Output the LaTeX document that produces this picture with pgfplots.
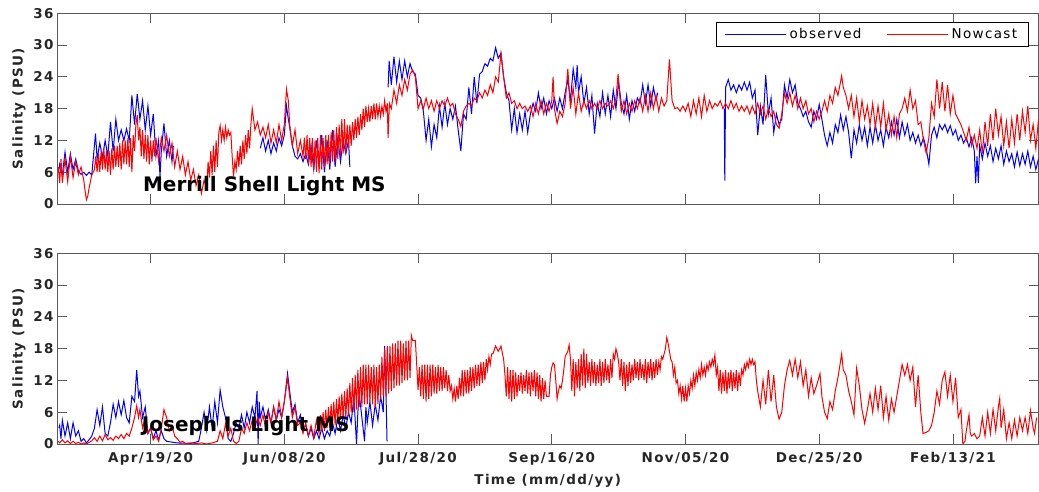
\documentclass[border=0pt]{standalone}
\usepackage{fontspec}
\setmainfont{DejaVu Sans}
\newfontfamily\spfont{DejaVu Sans}[LetterSpace=10]
\usepackage{pgfplots}
\pgfplotsset{compat=1.18}
\definecolor{axgray}{RGB}{90,90,90}
\definecolor{txtgray}{RGB}{38,38,38}
\pgfplotsset{
  myaxis/.style={
    scale only axis, width=981.5pt, height=190.7pt,
    xmin=0, xmax=367, ymin=0, ymax=36,
    ytick={0,6,12,18,24,30,36},
    xtick={35,85,135,185,235,285,335},
    minor tick num=0,
    tick pos=both,
    tick align=inside,
    major tick length=10pt,
    /pgf/number format/assume math mode=true,
    axis line style={axgray, line width=0.8pt},
    tick style={axgray, line width=0.8pt},
    tick label style={font=\spfont\fontsize{13.5}{14}\selectfont\bfseries, text=txtgray},
    ylabel={Salinity (PSU)},
    ylabel style={font=\spfont\fontsize{13.5}{14}\selectfont\bfseries, text=txtgray, at={(axis description cs:-0.0387,0.5)}, anchor=center},
    unbounded coords=jump,
    every axis plot/.append style={line width=1pt},
  }
}
\begin{document}
\begin{tikzpicture}[x=1pt,y=1pt]
\path[use as bounding box] (0,0) rectangle (1039,492);
% ---------------- top panel ----------------
\begin{axis}[myaxis, at={(57pt,288pt)}, anchor=south west,
  xticklabels={},
  legend columns=2,
  legend style={at={(rel axis cs:0.9896,0.956)}, anchor=north east, fill=white,
    font=\spfont\fontsize{13.5}{14}\selectfont, inner xsep=8pt, inner ysep=3.5pt,
    nodes={inner sep=3pt, text depth=0.15em},
    /tikz/every even column/.append style={column sep=22pt}},
  legend image code/.code={\draw[#1] (0pt,0pt) -- (61pt,0pt);},
]
\addplot[blue] coordinates {
(0.7,6.5)(1,7.5)(2,5.5)(3,9.8)(4,6)(5,9.5)(6,6.5)(7,8.5)(8,6.2)(9,5.6)(10,6)(11,5.4)(12,6)(13,5.5)(14.4,13.3)(15,8.5)(16,11.5)(17,8.8)(18,12)(19,9)(20,15.5)
(21,10)(22,16)(23,12)(24,14)(25,12)(26,14.2)(27,12)(28,20.5)(29,15)(30,20.8)(31,16)(32,19.5)(33,14)(34,18.5)(35,13)(36,17)(37,9)(38,12)(38.5,5)(39,10)
(40,15.2)(41,9)(42,12)(43,8)(43.5,11)(44,nan)
(76,10.5)(77,12.5)(78,10)(79,12)(80,9.5)(81,11.5)(82,10)(83,12.5)(84,11)(85,13)(85.8,18.5)(86.5,16)(87,14.5)(88,11)(89,9)(90,8.5)(91,9.5)(92,8)
(93,9.5)(94,7.5)(95,11)(96,6.5)(97,12)(98,7)(99,13)(100,6)(101,12)(102,6.5)(103,14)(104,7)(105,12.5)(106,8)(107,12)(108,9.5)(109,12)(109.5,7)(110,nan)
(123.8,22)(124.2,27)(125,22.5)(126,27.8)(127,23)(128,27)(129,23.5)(130,27)(131,24)(132,26.5)(133,25)(134,24.5)(135,20.5)(136,20)(137,17.5)(138,12)
(139,16)(140,10.8)(141,15)(142,12.5)(143,18.5)(144,14.5)(145,19)(146,15)(147,18)(148,16)(149,18.5)(150,14)(151,10)(152,17)(153,16)(154,22)(155,17)
(156,24)(157,19)(158,24.5)(159,25)(160,26.5)(161,26)(162,27.5)(163,27)(164,29.5)(165,27.5)(166,28.5)(167,24)(168,21)(169,19.5)(170,14)(171,18)
(172,13.5)(173,17)(174,14)(175,17.5)(176,13.5)(177,17)(178,19)(179,17.5)(180,21)(181,18)(182,20)(183,17)(184,19.5)(185,18)(186,20)(187,17.5)(188,20)
(189,18)(190,21)(191,23.5)(192,19.5)(193,25.5)(194,22)(194.5,26.2)(195,21)(196,24)(197,19)(198,22)(199,17)(200,20.5)(201,13.3)(202,19)(203,16.5)
(204,21)(205,17)(206,20.5)(207,16.5)(208,21.5)(209,18)(210,23)(211,19)(212,17)(213,20.5)(214,16)(215,19.5)(216,17.5)(217,20)(218,19)(219,22.5)
(220,19)(221,22.5)(222,18.5)(223,22)(224,19.5)(224.6,21)(225,nan)
(249.5,18)(249.7,4.4)(250,22)(251,23.5)(252,21.5)(253,22.5)(254,21)(255,22.5)(256,21.5)(257,23)(258,21.5)(259,23)(260,20)(261,21.5)(262,13)(263,18.5)
(264,15)(265,24.3)(266,17)(267,20)(268,13.5)(269,17)(270,15)(271,16)(272,22.5)(273,20)(274,23.5)(275,21)(276,22.5)(277,19)(278,18)(279,16.5)(280,17.5)
(281,15.5)(282,14.5)(283,17.5)(284,16)(285,18.8)(286,16)(287,13)(288,11)(289,13.5)(290,11.5)(291,15)(292,13.5)(293,16.8)(294,14)(295,16.5)(296,13.5)
(297,8.6)(298,14)(299,11.5)(300,15)(301,12)(302,14.5)(303,11)(304,14.5)(305,11.5)(306,15)(307,12)(308,14)(309,11)(310,14.5)(311,12.5)(312,15.5)
(313,13)(314,16)(315,12.5)(316,15.5)(317,13)(318,15)(319,12)(320,13.5)(321,11.5)(322,13)(323,11)(324,12.5)(325,10.5)(326,7.5)(327,13)(328,14.5)
(329,12.5)(330,15)(331,14)(332,15)(333,13.5)(334,14.8)(335,13)(336,14)(337,12)(338,13)(339,11.5)(340,12.5)(341,10.8)(342,12.5)(343,10)(343.5,3.9)
(344,9)(344.5,4)(345,11)(346,8.5)(347,11.5)(348,9)(349,11)(350,8)(351,10.5)(352,8.5)(353,11)(354,7.5)(355,10)(356,8)(357,9.5)(358,7)(359,9.8)
(360,7.2)(361,9.5)(362,7.5)(363,10)(364,7)(365,9)(366,6.5)(367,8.5)
};
\addlegendentry{observed}
\addplot[red] coordinates {
(0.5,7)(1,4)(1.5,8.5)(2,4)(3,8.5)(4,4.2)(5,9)(6,5)(7,8)(8,5.5)(9,7)(10,4.5)(10.5,2.5)(11,0.8)(11.5,1.5)(12,3)(13,5.5)
(14,6.5)(14.5,9)(15,6)(15.5,9.5)(16,6)(16.5,10)(17,6.5)(17.5,10.5)(18,6.5)(18.5,10)(19,6)(19.5,10)(20,5.5)(20.5,10.5)(21,6.5)(21.5,11)(22,7)(22.5,11)
(23,7)(23.5,11.5)(24,6.5)(24.5,12)(25,7.5)(25.5,12)(26,7.5)(26.5,12.5)(27,7)(27.5,12.5)(28,6)(28.5,13)(29,10)(29.5,15)(30,16.8)(30.5,12)(31,14.5)
(31.5,9)(32,14)(32.5,8.5)(33,13)(33.5,8)(34,13)(34.5,7.5)(35,12)(35.5,8)(36,12)(36.5,9)(37,12.5)
(38,8)(39,12.5)(40,10)(41,13)(42,9)(43,11.5)(44,7)(45,10)(46,6.5)(47,9)(48,5.5)(49,8)(50,4.5)(51,6.5)(52,3.5)(53,5.5)(54,2)(55,4.5)(56,3)
(56.5,8)(57,5)(57.5,10)(58,5.5)(58.5,11)(59,6)(59.5,12)(60,7)(60.5,13.5)(61,14.8)(61.5,12)(62,14)(62.5,12)(63,14.5)(63.5,12.5)(64,14)(64.5,13)(65,13.5)
(65.5,9)(66,5.2)(66.5,8)(67,6.5)(67.5,10)(68,7)(68.5,11)(69,7.5)(69.5,12)(70,8.5)(70.5,13)(71,9.5)(71.5,14)(72,10.5)(72.5,15)(73,18)(74,14)(75,15.5)
(76,13)(77,14.5)(78,12.5)(79,15)(80,11.5)(81,14)(82,11.5)(83,15)(84,12)(85,15)(85.8,21.7)(86.5,19.5)(87,15)(88,11)(89,14)(90,9.5)(91,12)(92,9)
(92.5,12.5)(93,8.5)(93.5,13)(94,7.5)(94.5,12.5)(95,7)(95.5,12.5)(96,6.5)(96.5,12)(97,6)(97.5,12.5)(98,5.8)(98.5,13)(99,6.5)(99.5,12.5)(100,7)(100.5,13)
(101,7.5)(101.5,13)(102,7.5)(102.5,13.5)(103,8)(103.5,14)(104,8)(104.5,14.5)(105,8.5)(105.5,15)(106,9)(106.5,16)(107,9.5)(107.5,16)(108,9.5)(108.5,15)
(109,10.5)(109.5,15)(110,11)(110.5,15.5)(111,12)(111.5,16)(112,12.5)(112.5,16.5)(113,13)(113.5,17)(114,14)(114.5,18)(115,14.5)(115.5,18.5)(116,15.5)
(116.5,18)(117,15.5)(117.5,18.5)(118,16)(118.5,19)(119,16)(119.5,19)(120,16.5)(120.5,18.5)(121,16.5)(121.5,18.5)(122,17)(122.5,19.5)(123,17.5)(123.5,19)
(123.8,12.5)(124.3,19)
(125,18)(126,21.5)(127,19)(128,22.5)(129,20.5)(130,23.5)(131,21.5)(132,24.5)(133,25.3)(134,24)(135,18)(136,19.5)(137,18)(138,20)(139,18)(140,19.5)
(141,17.5)(142,19.5)(143,18)(144,19.5)(145,18.5)(146,20)(147,18.5)(148,19)(149,17)(150,16)(151,14.6)(152,17.5)(153,18.5)(154,19)(155,18.5)(156,20)
(157,19.5)(158,21)(159,20)(160,21.5)(161,20.5)(162,22.5)(163,21)(164,24)(165,23)(166,28.4)(167,24)(168,20)(169,21)(170,19)(171,19.5)(172,18)(173,19)
(174,18)(175,18.5)(176,17.5)(177,18.5)(178,16.5)(179,19)(180,17)(181,19.5)(182,17)(183,19)(184,17.5)(185,19.5)(185.5,24)(186,18)(187,15.2)(188,17.5)
(189,16.5)(190,19)(191,25.5)(192,18)(193,22)(194,17)(195,21)(196,17.5)(197,19.5)(198,18)(199,19.5)(200,18)(201,19)(202,18)(203,19.5)(204,18)(205,19)
(206,18.5)(207,19.5)(208,18)(209,20)(209.8,24.5)(210.5,20)(211,17.5)(212,19.5)(213,17)(214,19)(215,17.5)(216,19.5)(217,18)(218,20)(219,17.5)(220,20.5)
(221,17.5)(222,21)(223,18)(224,20.5)(225,17.5)(226,20)(227,18.5)(228,19.5)(229,27.3)(230,19.5)(231,18)(232,18.2)(233,17.5)(234,18.5)(235,17.5)(236,19)
(237,16.5)(238,19.5)(239,17)(240,20)(241,16.5)(242,20.5)(243,17.5)(244,19.5)(245,18)(246,19)(247,18.5)(248,19.5)(249,18)(250,19)(251,18)(252,19.5)
(253,18)(254,19)(255,17.5)(256,18.5)(257,17.5)(258,18.5)(259,17)(260,18.5)(261,17)(262,19)(263,17)(264,18.5)(265,16)(266,18)(267,16.5)(268,17.5)
(269,15)(270,14.3)(271,17)(272,21)(273,19)(274,21)(275,18.5)(276,20.5)(277,18)(278,20)(279,18)(280,19.5)(281,17)(282,18)(283,15.5)(284,17.5)(285,16)
(286,17.5)(287,19.5)(288,17.5)(289,20.5)(290,19)(291,22)(292,20.5)(293.4,24.2)(294,22)(295,20.5)(296,18)(297,20.5)(298,16.5)(299,20)(300,15.5)
(301,19.5)(302,16)(303,18.5)(304,15)(305,19)(306,14.5)(307,18.5)(308,14.5)(309,19)(310,14)(311,17)(312,13)(313,16.5)(314,12.5)(315,17)(316,18)(317,20)
(318,17.5)(319,21.5)(320,18)(321,19.5)(322,15)(323,15.5)(324,12)(325,9.6)(326,12.5)(327,19)(328,16.5)(329,23.5)(330,18)(331,23)(332,17.5)(333,22.5)
(334,17)(335,20.5)(336,17)(337,16)(338,15)(339,13.5)(340,12)(341,14.5)(342,11)(343,13)(344,10.5)(345,14)(346,9.5)(347,15.5)(348,11)(349,17)(350,12)
(351,18)(352,13)(353,16.5)(354,11)(355,15.5)(356,10.5)(357,16)(358,11.5)(359,17)(360,12)(361,17.5)(362,13.5)(363,18.5)(364,12)(365,15)(366,10.5)(367,16)
};
\addlegendentry{Nowcast}
\node[anchor=base west, inner sep=0pt, font=\fontsize{20}{21}\selectfont\bfseries, text=black] at (axis cs:32.1,2.3) {Merrill Shell Light MS};
\end{axis}
% ---------------- bottom panel ----------------
\begin{axis}[myaxis, at={(57pt,48pt)}, anchor=south west,
  xticklabels={Apr/19/20,Jun/08/20,Jul/28/20,Sep/16/20,Nov/05/20,Dec/25/20,Feb/13/21},
  xticklabel style={anchor=base, yshift=-18.3pt},
  xlabel={Time (mm/dd/yy)},
  xlabel style={font=\spfont\fontsize{13.5}{14}\selectfont\bfseries, text=txtgray, at={(axis description cs:0.5,-0.215)}, anchor=base},
]
\addplot[blue] coordinates {
(0.7,3)(1,3.5)(1.5,1)(2,4.5)(3,1.5)(4,4)(5,1)(6,4)(7,1.5)(8,2.5)(9,0.5)(10,1)(11,0.2)(12,0.8)(13,1.5)(14,3)(15,6.5)(16,3.5)(17,7)(18,2)(19,1.5)
(20,4)(21,7.5)(22,5)(23,8)(24,5.5)(25,8.2)(26,5)(27,4)(28,9)(29,8)(29.8,14)(30.5,9)(31,10)(32,5)(33,7)(34,2)(35,3)(36,1)(37,2.5)(38,0.8)(39,2.5)
(40,1)(41,0.5)(45,0.2)(50,0.1)(53,0.5)(54,3)(55,6)(56,2.5)(57,7)(58,3)(59,8)(60,4)(61,10.2)(62,7)(63,5)(64,1)(65,0.5)(66,2)(67,4)(68,3)(69,5.5)
(70,3)(71,6)(72,4)(73,7)(74,5)(74.8,10)(75.2,0)(75.6,8)(76,5)(77,7)(78,4.5)(79,6.5)(80,4)(81,7)(82,4.5)(83,6.5)(84,5)(85,8)(86.2,13.3)(87,10)(88,6)
(89,7.5)(90,4)(91,5.5)(92,3)(93,3.5)(94,1.5)(95,3)(96,1)(97,2.5)(98,1)(99,3)(100,1)(101,2.5)(102,1.5)(103,4)(104,2)(105,5)(106,2.5)(107,5.5)(108,3)
(109,6)(110,4)(111,9)(112,0)(112.5,6)(113,9.5)(114,5)(115,0.5)(115.5,7)(116,4)(117,8)(118,3.5)(119,7.5)(120,4.5)(121,9)(122,6)(122.5,18.5)(123,10)(123.4,0.5)
};
\addplot[red] coordinates {
(0.5,0.5)(1,0.2)(2,0.8)(3,0.2)(4,0.6)(5,0.1)(6,0.5)(7,0.1)(8,0.3)(9,0)(10,0.2)(11,0)(12,0.3)(13,0.6)(14,1.2)(15,0.5)(16,1.5)(17,0.6)(18,1.8)(19,0.8)
(20,1.2)(21,0.7)(22,1.5)(23,1)(24,1.8)(25,1)(26,2)(27,1.5)(28,3)(29,5)(29.8,7.2)(30.5,5)(31,6.5)(32,3)(33,5)(34,2)(35,3)(36,0.8)(37,1.5)(38,0.5)
(39,3)(40,6.5)(41,5)(42,2.5)(43,3.5)(44,1.5)(45,1)(46,0.3)(47,0.5)(48,0.1)(50,0.2)(52,0.1)(54,0.2)(56,0)(58,0.2)(60,0.5)(61,2.5)(62,1)(63,3.8)(64,1.5)
(65,3)(66,0.5)(67,0.1)(68,0.5)(69,3)(70,2)(71,4)(72,2.5)(73,4.5)(74,3)(75,5)(76,3.5)(77,5.5)(78,3)(79,6)(80,4)(81,7)(82,4.5)(83,8)(84,5)(85,8)
(86.2,12.5)(87,9)(88,5)(89,7)(90,3.5)(91,4)(92,2)(93,4)(94,1.5)(95,3.5)(96,1.2)(97,4.5)
(98,2)(98.5,5.5)(99,2.5)(99.5,6)(100,2.5)(100.5,6.5)(101,3)(101.5,7)(102,3)(102.5,7.5)(103,3.5)(103.5,8)(104,3.5)(104.5,8.5)(105,4)(105.5,9)(106,4.5)
(106.5,9.5)(107,5)(107.5,10)(108,5)(108.5,10.5)(109,5.5)(109.5,11.5)(110,6)(110.5,12.5)(111,6)(111.5,13)(112,6.5)(112.5,14)(113,7)(113.5,14.5)(114,7)
(114.5,15)(115,7.5)(115.5,15)(116,7.5)(116.5,15)(117,8)(117.5,14.5)(118,7.5)(118.5,15)(119,7)(119.5,14.5)(120,7.5)(120.5,15)(121,8.5)(121.5,16.5)
(122,9)(122.5,18)(123,9)(123.5,18.5)(124,9.5)(124.5,18.5)(125,10)(125.5,19)(126,10.5)(126.5,19)(127,11)(127.5,19.5)(128,11)(128.5,19.5)(129,11.5)
(129.5,19)(130,12)(130.5,19.5)(131,12)(131.5,19.5)(132,12.5)(132.5,20.5)(133,19.5)(134,19.5)(134.5,15)(135,10.2)(135.5,14.5)(136,9)(136.5,15)(137,8.5)
(137.5,15)(138,8)(138.5,15)(139,8.5)(139.5,15)(140,9)(140.5,15)(141,9.5)(141.5,14.5)(142,9.5)(142.5,15)(143,10)(143.5,14.5)(144,10)(144.5,14.5)
(145,10.5)(145.5,14)(146,10)(146.5,13)(147,10)(147.5,11)(148,8.5)(148.5,10.5)(149,8)(149.5,11)(150,8.5)(150.5,12.5)(151,9)(151.5,14)(152,9)(152.5,14)
(153,9.5)(153.5,14)(154,9.5)(154.5,14.5)(155,10)(155.5,14.5)(156,10.5)(156.5,15)(157,11)(157.5,15)(158,11)(158.5,15.5)(159,11.5)(159.5,15.5)(160,12)
(160.5,16)(161,14)(161.5,16.5)(162,15)(162.5,17)(163,17)(164,18.5)(165,17.5)(166,18.5)(167,16)(167.5,13)(168,9)(168.5,14.5)(169,8.5)(169.5,14)(170,8)
(170.5,14)(171,8.5)(171.5,13.5)(172,9)(172.5,13)(173,10)(173.5,13.5)(174,9.5)(174.5,13)(175,10)(175.5,14)(176,9.5)(176.5,13.5)(177,9)(177.5,13.5)
(178,10)(178.5,14)(179,9)(179.5,13.5)(180,8.5)(180.5,13)(181,8)(181.5,12.5)(182,8.5)(182.5,12)(183,9)
(184,9)(184.5,13)(185,14.5)(185.5,15.3)(186,15)(186.5,12)(187,8.5)(187.5,10)(188,11)(188.5,10.5)(189,12)(189.5,14)(190,16.5)(190.5,17)(191,17.5)
(191.5,18.7)(192,16)(192.5,10)(193,16)(193.5,9)(194,15.5)(194.5,10.5)(195,16)(195.5,10)(196,17)(196.5,11)(197,18)(197.5,10.5)(198,17)(198.5,11.5)
(199,15.5)(199.5,11)(200,16)(200.5,11.5)(201,15.5)(201.5,11)(202,15)(202.5,11.5)(203,16)(203.5,11)(204,15.5)(204.5,11.5)(205,16)(205.5,12)(206,15)
(206.5,11.5)(207,16)(207.5,12.5)(208,17)(208.5,16)(209,18)(209.5,17)(210,15.5)(210.5,12)(211,16)(211.5,11)(212,15.5)(212.5,10)(213,15)(213.5,11)
(214,15.5)(214.5,11.5)(215,15)(215.5,12)(216,16)(216.5,12.5)(217,15.5)(217.5,12)(218,16)(218.5,12.5)(219,15)(219.5,12)(220,16)(220.5,11.5)(221,15.5)
(221.5,12.5)(222,16)(222.5,12)(223,15.5)(223.5,12.5)(224,16)(224.5,13)(225,15.5)(225.5,14)(226,16.5)(226.5,16)(227,17)(227.5,18)(228,20.1)(228.5,19)
(229,17.5)(229.5,16)(230,15.5)(230.5,13)(231,14.5)(231.5,11.5)(232,12)(232.5,9.5)(233,11)(233.5,8.5)(234,11)(234.5,8)(235,10.5)(235.5,8)(236,11)
(236.5,9.5)(237,12)(237.5,10.5)(238,13)(238.5,11)(239,13.5)(239.5,12)(240,14)(240.5,12.5)(241,15)(241.5,13)(242,14.5)(242.5,13)(243,15)(243.5,14)
(244,15.5)(244.5,14.5)(245,16)(245.5,15)(246,16.8)(246.5,13)(247,14.5)(247.5,10)(248,14)(248.5,9.5)(249,13.5)(249.5,10)(250,14)(250.5,9.5)(251,13.5)
(251.5,10.5)(252,14)(252.5,10)(253,13.5)(253.5,10.5)(254,14)(254.5,10)(255,13.5)(255.5,11)(256,14)(256.5,13)(257,15)(257.5,14)(258,15.5)(258.5,14.5)
(259,16)(259.5,15)(260,16)(260.5,15)(261,15.5)(261.5,12)(262,10)
(263,7)(264,12)(265,7.5)(266,14)(267,8)(268,13)(269,7)(270,4.7)(271,6)
(272,11)(273,14)(274,15.8)(275,13)(276,16)(277,12.5)(278,15.5)(279,11)(280,14)(281,9)(282,12.5)(283,9.5)(284,11)(285.3,13.3)(286,9)(287,6)(288,4.8)
(289,8)(290,6.5)(291,10)(292,12.5)(293.4,17)(294,14)(295,13)(296,10)(297,8)(298,5.5)(299,14.3)(300,11)(301,6.5)(302,3.9)(303,6.5)(304,9.5)(305,6)
(306,10.5)(307,6.5)(308,11)(309,5)(310,9)(311,4.5)(312,8.5)(313,6)(314,9)(315,12)(316,15)(317,13)(318,15)(319,12)(320,14.5)(321,7)(322,13)(323,6)
(323.8,2)(325,2.2)(326,2.5)(327,3.5)(328,6)(329,10)(330,7.5)(331,12)(332,13.6)(333,9)(334,13)(335,8)(336,12.5)(337,5)(338,6.5)(338.7,0)(339.5,0.5)
(340,2.5)(341,5.5)(341.5,2)(342,1.5)(343,2)(344,1)(345,1.5)(346,5)(347,1.5)(348,6)(349,2)(350,6.5)(351,2.5)(352,7)(352.5,8.6)(353,3)(354,6.5)(355,1)
(356,4)(357,1)(358,4.5)(359,1.5)(360,5)(361,2.5)(362,5)(363,2)(364,6.3)(365,3)(365.5,2)(366.3,5)
};
\node[anchor=base west, inner sep=0pt, font=\fontsize{20}{21}\selectfont\bfseries, text=black] at (axis cs:31.7,2.3) {Joseph Is Light MS};
\end{axis}
\end{tikzpicture}
\end{document}
